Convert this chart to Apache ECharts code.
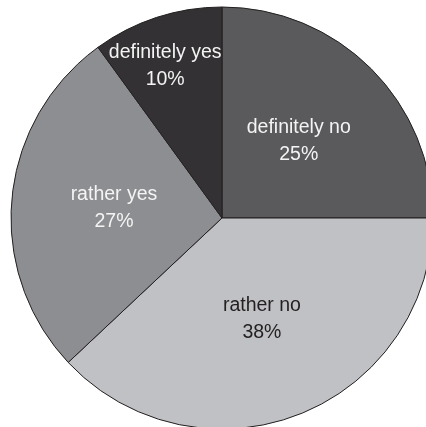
<!DOCTYPE html>
<html>
<head>
<meta charset="utf-8">
<script src="https://cdn.jsdelivr.net/npm/echarts@6/dist/echarts.min.js"></script>
<style>html,body{margin:0;padding:0;background:#fff}#c{width:426px;height:427px}</style>
</head>
<body>
<div id="c"></div>
<script>
const categories = ['definitely no', 'rather no', 'rather yes', 'definitely yes'];
const values = [25, 38, 27, 10];
const colors = ['#5a5a5c', '#c0c1c4', '#8d8e91', '#333133'];
const labelColors = ['#f4f4f4', '#231f20', '#f4f4f4', '#f4f4f4'];
const outerLabel = [false, false, false, true];

const chart = echarts.init(document.getElementById('c'));
const center = [222, 218];
const R = 211;
const font = { fontFamily: 'Liberation Sans, Arial, sans-serif', fontSize: 19.5, lineHeight: 27 };

chart.setOption({
  animation: false,
  series: [
    {
      type: 'pie',
      center: center,
      radius: [0, R],
      startAngle: 90,
      clockwise: true,
      silent: true,
      data: categories.map((c, i) => ({
        name: c,
        value: values[i],
        itemStyle: { color: colors[i], borderColor: '#231f20', borderWidth: 1 },
        label: { show: !outerLabel[i], color: labelColors[i] }
      })),
      label: Object.assign({ position: 'inside', formatter: p => p.name + '\n' + p.value + '%' }, font),
      labelLine: { show: false }
    },
    {
      type: 'pie',
      center: center,
      radius: [0, R * 1.53],
      startAngle: 90,
      clockwise: true,
      silent: true,
      z: 5,
      data: categories.map((c, i) => ({
        name: c,
        value: values[i],
        itemStyle: { color: 'rgba(0,0,0,0)', borderWidth: 0 },
        label: { show: outerLabel[i], color: labelColors[i], offset: [-6, 4] }
      })),
      label: Object.assign({ position: 'inside', formatter: p => p.name + '\n' + p.value + '%' }, font),
      labelLine: { show: false }
    }
  ]
});
</script>
</body>
</html>
